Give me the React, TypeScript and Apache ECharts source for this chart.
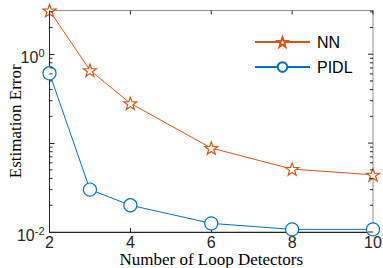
import React, { useEffect, useRef } from "react";
import * as echarts from "echarts";

const detectors = [2, 3, 4, 6, 8, 10];
const nnError = [3.1, 0.66, 0.28, 0.088, 0.051, 0.044];
const pidlError = [0.61, 0.03, 0.02, 0.0125, 0.0107, 0.0107];
const xTicks = [2, 4, 6, 8, 10];
const yMajorTicks = [0.01, 0.1, 1];
const yMin = 0.01;
const yMax = 3.1;
const minorTickValues = [
  0.02, 0.03, 0.04, 0.05, 0.06, 0.07, 0.08, 0.09,
  0.2, 0.3, 0.4, 0.5, 0.6, 0.7, 0.8, 0.9, 2, 3,
];

const NN_COLOR = "#D95319";
const PIDL_COLOR = "#0072BD";
const AXIS_DARK = "#262626";
const AXIS_GRAY = "#8c8c8c";

function starPath(): string {
  const pts: string[] = [];
  for (let i = 0; i < 10; i++) {
    const r = i % 2 === 0 ? 1 : 0.4;
    const a = -Math.PI / 2 + (i * Math.PI) / 5;
    const x = (r * Math.cos(a)).toFixed(4);
    const y = (r * Math.sin(a)).toFixed(4);
    pts.push((i === 0 ? "M" : "L") + x + " " + y);
  }
  return "path://" + pts.join(" ") + " Z";
}

// kind: 0 = y minor tick (left+right), 1 = y major tick (right), 2 = x major tick (top)
const tickData: number[][] = [
  ...minorTickValues.map((v) => [2, v, 0]),
  ...yMajorTicks.map((v) => [10, v, 1]),
  ...xTicks.map((x) => [x, yMax, 2]),
];

export default function App() {
  const ref = useRef<HTMLDivElement>(null);
  useEffect(() => {
    if (!ref.current) return;
    const chart = echarts.init(ref.current, undefined, { renderer: "svg" });
    const star = starPath();
    const supLabel = (v: number) => {
      if (Math.abs(v - 1) < 1e-9) return "10{sup|0}";
      if (Math.abs(v - 0.01) < 1e-9) return "10{sup|-2}";
      return "";
    };
    const left = 49.5;
    const right = 10;
    const top = 10.5;
    const bottom = 36;
    const tickStyle = { stroke: AXIS_DARK, lineWidth: 1 };
    chart.setOption({
      animation: false,
      backgroundColor: "#ffffff",
      grid: {
        left,
        right,
        top,
        bottom,
        show: true,
        borderColor: AXIS_GRAY,
        borderWidth: 1,
        backgroundColor: "transparent",
        containLabel: false,
        outerBoundsMode: "none",
      },
      graphic: [
        {
          type: "text",
          x: (left + 383 - right) / 2,
          y: 259,
          style: {
            text: "Number of Loop Detectors",
            fontFamily: "Liberation Serif",
            fontSize: 17,
            fill: "#000",
            align: "center",
            verticalAlign: "middle",
          },
        },
        {
          type: "text",
          x: 15,
          y: (top + 268 - bottom) / 2,
          rotation: Math.PI / 2,
          style: {
            text: "Estimation Error",
            fontFamily: "Liberation Serif",
            fontSize: 17,
            fill: "#000",
            align: "center",
            verticalAlign: "middle",
          },
        },
      ],
      legend: {
        orient: "vertical",
        left: 254,
        top: 34,
        padding: 0,
        itemWidth: 55,
        itemHeight: 12,
        itemGap: 9,
        data: ["NN", "PIDL"],
        textStyle: {
          fontFamily: "Liberation Sans",
          fontSize: 16,
          color: "#000",
          padding: [0, 0, 0, 2],
        },
      },
      xAxis: {
        type: "value",
        min: 2,
        max: 10,
        interval: 2,
        position: "bottom",
        axisLine: { show: true, onZero: false, lineStyle: { color: AXIS_DARK, width: 1 } },
        axisTick: { show: true, inside: true, length: 4, lineStyle: { color: AXIS_DARK } },
        splitLine: { show: false },
        axisLabel: {
          fontFamily: "Liberation Sans",
          fontSize: 16,
          color: AXIS_DARK,
          margin: 2,
          formatter: (v: number) => (xTicks.includes(v) ? String(v) : ""),
        },
      },
      yAxis: {
        type: "log",
        logBase: 10,
        min: yMin,
        max: yMax,
        position: "left",
        axisLine: { show: true, onZero: false, lineStyle: { color: AXIS_DARK, width: 1 } },
        axisTick: { show: true, inside: true, length: 5, lineStyle: { color: AXIS_DARK } },
        splitLine: { show: false },
        axisLabel: {
          margin: 5,
          padding: [6, 0, 0, 0],
          fontFamily: "Liberation Sans",
          fontSize: 16,
          color: AXIS_DARK,
          formatter: supLabel,
          rich: {
            sup: {
              fontFamily: "Liberation Sans",
              fontSize: 11,
              color: AXIS_DARK,
              verticalAlign: "bottom",
              padding: [0, 0, 9, 0],
            },
          },
        },
      },
      series: [
        {
          type: "custom",
          name: "ticks",
          silent: true,
          z: 5,
          encode: { x: 0, y: 1 },
          data: tickData,
          renderItem: (params: any, api: any) => {
            const kind = api.value(2);
            const v = api.value(1);
            const children: any[] = [];
            if (kind === 0) {
              const pl = api.coord([2, v]);
              const pr = api.coord([10, v]);
              children.push({
                type: "line",
                shape: { x1: pl[0], y1: pl[1], x2: pl[0] + 3, y2: pl[1] },
                style: tickStyle,
              });
              children.push({
                type: "line",
                shape: { x1: pr[0] - 3, y1: pr[1], x2: pr[0], y2: pr[1] },
                style: tickStyle,
              });
            } else if (kind === 1) {
              const pr = api.coord([10, v]);
              children.push({
                type: "line",
                shape: { x1: pr[0] - 5, y1: pr[1], x2: pr[0], y2: pr[1] },
                style: tickStyle,
              });
            } else {
              const x = api.value(0);
              const pt = api.coord([x, yMax]);
              children.push({
                type: "line",
                shape: { x1: pt[0], y1: pt[1], x2: pt[0], y2: pt[1] + 4 },
                style: tickStyle,
              });
            }
            return { type: "group", children };
          },
        },
        {
          type: "line",
          name: "NN",
          data: detectors.map((d, i) => [d, nnError[i]]),
          symbol: star,
          symbolKeepAspect: true,
          symbolSize: 13,
          clip: false,
          z: 3,
          lineStyle: { color: NN_COLOR, width: 1 },
          itemStyle: { color: "#ffffff", borderColor: NN_COLOR, borderWidth: 1.2 },
        },
        {
          type: "line",
          name: "PIDL",
          data: detectors.map((d, i) => [d, pidlError[i]]),
          symbol: "circle",
          symbolSize: 13,
          clip: false,
          z: 3,
          lineStyle: { color: PIDL_COLOR, width: 1 },
          itemStyle: { color: "#ffffff", borderColor: PIDL_COLOR, borderWidth: 1.2 },
        },
      ],
    });
    return () => chart.dispose();
  }, []);
  return (
    <div
      ref={ref}
      style={{ position: "fixed", left: 0, top: 0, width: 383, height: 268, background: "#fff" }}
    />
  );
}
